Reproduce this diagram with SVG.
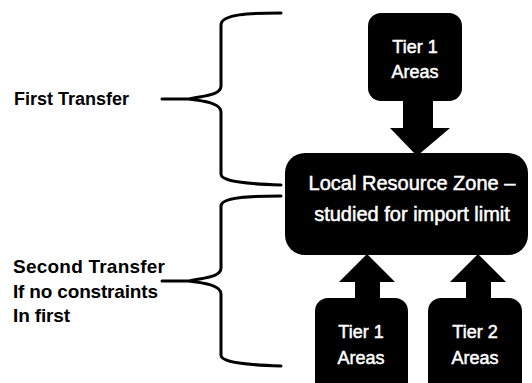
<svg xmlns="http://www.w3.org/2000/svg" width="532" height="383" viewBox="0 0 532 383">
  <style>
    .label { font-family: "Liberation Sans", Arial, sans-serif; font-weight: bold; font-size: 18px; fill: #000; }
    .label-lg { font-size: 19px; }
    .node-text { font-family: "Liberation Sans", Arial, sans-serif; font-size: 18px; fill: #fff; stroke: #fff; stroke-width: 0.5; text-anchor: middle; }
    .lrz-text { font-family: "Liberation Sans", Arial, sans-serif; font-size: 20px; fill: #fff; stroke: #fff; stroke-width: 0.5; text-anchor: middle; }
    .box { fill: #000; }
    .brace { fill: none; stroke: #000; stroke-width: 3; stroke-linecap: round; stroke-linejoin: round; }
    .arrow { fill: #000; }
  </style>
  <rect width="532" height="383" fill="#fff"/>

  <!-- brace labels -->
  <g id="label-first">
    <text class="label" x="14" y="105">First Transfer</text>
  </g>
  <g id="label-second">
    <text class="label label-lg" x="13" y="273" textLength="152">Second Transfer</text>
    <text class="label label-lg" x="13" y="298" textLength="145">If no constraints</text>
    <text class="label label-lg" x="13" y="322" textLength="57">In first</text>
  </g>

  <!-- connectors: braces and block arrows -->
  <g id="connectors">
    <path class="brace" d="M 281 13 C 250 13 221 14 221 25 L 221 86 C 221 96 200 96 190 99 C 200 101 221 102 221 112 L 221 174 C 221 182 250 184 281 185"/>
    <line class="brace" x1="162" y1="99" x2="190" y2="99"/>
    <path class="brace" d="M 281 196 C 250 196 221 197 221 206 L 221 268 C 221 278 200 278 190 281 C 200 283 221 284 221 294 L 221 355 C 221 363 250 365 281 366"/>
    <line class="brace" x1="162" y1="281" x2="190" y2="281"/>
    <polygon class="arrow" points="403,99 433,99 433,128 450,128 417,156 390,128 403,128"/>
    <polygon class="arrow" points="367,254 395,282 380,282 380,300 355,300 355,282 339,282"/>
    <polygon class="arrow" points="478,254 506,282 491,282 491,300 466,300 466,282 450,282"/>
  </g>

  <!-- nodes -->
  <g id="tier1-top">
    <rect class="box" x="368" y="13" width="94" height="88" rx="13"/>
    <text class="node-text" x="415" y="53">Tier 1</text>
    <text class="node-text" x="415" y="78">Areas</text>
  </g>
  <g id="local-resource-zone">
    <rect class="box" x="285" y="153" width="243" height="102" rx="20"/>
    <text class="lrz-text" x="412" y="190">Local Resource Zone –</text>
    <text class="lrz-text" x="412" y="221">studied for import limit</text>
  </g>
  <g id="tier1-bottom">
    <rect class="box" x="315" y="298" width="93" height="100" rx="13"/>
    <text class="node-text" x="361" y="338">Tier 1</text>
    <text class="node-text" x="361" y="364">Areas</text>
  </g>
  <g id="tier2-bottom">
    <rect class="box" x="428" y="298" width="94" height="100" rx="13"/>
    <text class="node-text" x="475" y="338">Tier 2</text>
    <text class="node-text" x="475" y="364">Areas</text>
  </g>
</svg>
